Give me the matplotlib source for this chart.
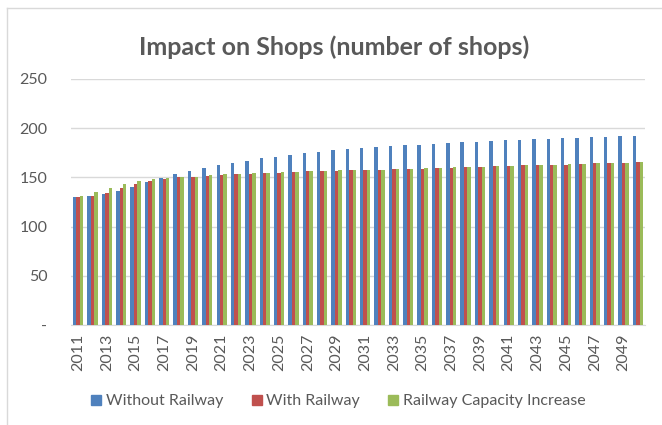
import numpy as np
import matplotlib.pyplot as plt
from matplotlib.lines import Line2D

years = list(range(2011, 2051))

without_railway = [130.1, 130.8, 132.9, 136.2, 140.3, 145.1, 149.2, 153.3, 156.3, 159.4,
                   162.4, 164.5, 166.8, 169.3, 170.9, 172.7, 174.4, 175.7, 177.4, 178.4,
                   179.5, 180.5, 181.5, 182.6, 183.2, 183.9, 184.9, 185.6, 186.2, 186.9,
                   187.6, 188.0, 188.6, 189.0, 189.7, 190.0, 190.7, 191.0, 191.7, 192.0]
with_railway = [130.1, 130.8, 134.6, 139.3, 143.1, 146.1, 147.9, 150.2, 150.5, 151.2,
                152.2, 153.3, 153.6, 154.3, 154.6, 155.3, 156.0, 156.3, 156.6, 157.3,
                157.7, 158.0, 158.4, 158.7, 159.0, 159.4, 159.7, 160.4, 160.7, 161.4,
                161.7, 162.1, 162.4, 162.8, 163.1, 163.5, 164.2, 164.5, 164.8, 165.2]
capacity_increase = [130.8, 134.9, 139.3, 143.1, 146.1, 147.9, 149.2, 150.5, 150.9, 152.2,
                     153.0, 153.3, 154.3, 154.6, 155.3, 155.6, 156.3, 156.6, 157.3, 157.3,
                     158.0, 158.0, 158.4, 159.0, 159.4, 159.7, 160.4, 161.0, 161.0, 161.4,
                     161.7, 162.4, 162.4, 162.8, 163.5, 163.5, 164.2, 164.5, 164.8, 165.2]

series = [("Without Railway", without_railway, "#4F81BD"),
          ("With Railway", with_railway, "#C0504D"),
          ("Railway Capacity Increase", capacity_increase, "#9BBB59")]

plt.rcParams["font.family"] = ["Lato", "DejaVu Sans"]
text_color = "#595959"
grid_color = "#D9D9D9"

fig = plt.figure(figsize=(6.62, 4.25), dpi=100)
ax = fig.add_axes([71 / 662, 1 - 325 / 425, 574 / 662, 246 / 425])

x = np.arange(len(years))
w = 0.24
for i, (name, vals, col) in enumerate(series):
    ax.bar(x + (i - 1) * w, vals, width=w, color=col, label=name, zorder=3)

ax.set_xlim(-0.5, len(years) - 0.5)
ax.set_ylim(0, 250)
ax.set_yticks(range(0, 251, 50))
ax.set_yticklabels(["-"] + [str(v) for v in range(50, 251, 50)])
ax.set_xticks(x[::2])
ax.set_xticklabels([str(y) for y in years[::2]], rotation=90)
ax.tick_params(axis="both", length=0, labelsize=11.5, colors=text_color)
ax.tick_params(axis="y", pad=17)
ax.tick_params(axis="x", pad=6)

ax.grid(axis="y", color=grid_color, linewidth=1, zorder=0)
for s in ["top", "right", "left"]:
    ax.spines[s].set_visible(False)
ax.spines["bottom"].set_color(grid_color)

fig.text(0.505, 1 - 47 / 425, "Impact on Shops (number of shops)", ha="center", va="center",
         fontsize=18, fontweight="bold", color=text_color)

handles = [Line2D([], [], marker="s", linestyle="", markersize=7.5, color=c) for _, _, c in series]
fig.legend(handles, [n for n, _, _ in series], loc="center", bbox_to_anchor=(0.51, 1 - 401 / 425),
           ncol=3, frameon=False, fontsize=11.5, labelcolor=text_color, handletextpad=0.2,
           columnspacing=1.7, handlelength=0.8)

# chart frame (left and top edges visible)
fig.add_artist(Line2D([7 / 662, 7 / 662], [0, 1 - 8 / 425], color=grid_color, linewidth=1))
fig.add_artist(Line2D([7 / 662, 1], [1 - 8 / 425, 1 - 8 / 425], color=grid_color, linewidth=1))

fig.savefig("out.png", dpi=100)
